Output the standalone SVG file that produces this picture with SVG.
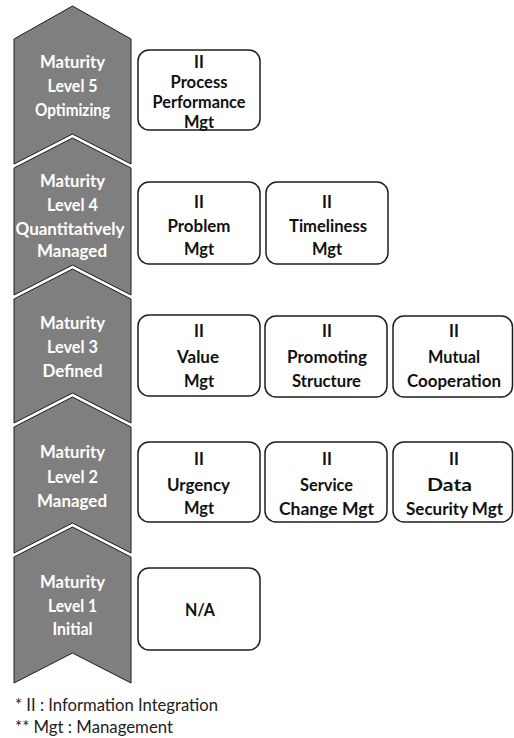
<svg xmlns="http://www.w3.org/2000/svg" width="514" height="738" viewBox="0 0 514 738">
<style>
.chev{fill:#7f7f7f;stroke:#1e1e1e;stroke-width:1}
.box{fill:#ffffff;stroke:#1e1e1e;stroke-width:1.5}
.lt{font-family:Lato,"Liberation Sans",sans-serif;font-weight:bold;font-size:16.5px;fill:#ffffff;text-anchor:middle}
.bt{font-family:Lato,"Liberation Sans",sans-serif;font-weight:bold;font-size:16.5px;fill:#111111;text-anchor:middle}
.fn{font-family:Lato,"Liberation Sans",sans-serif;font-size:17px;fill:#222222}
</style>
<rect width="514" height="738" fill="#ffffff"/>
<g id="level5">
<polygon class="chev" points="72.5,6 131,39 131,164 72.5,134 14,164 14,39"/>
<text class="lt" x="72.5" y="68" textLength="65" lengthAdjust="spacingAndGlyphs">Maturity</text>
<text class="lt" x="72.5" y="92" textLength="50" lengthAdjust="spacingAndGlyphs">Level 5</text>
<text class="lt" x="72.5" y="116" textLength="75" lengthAdjust="spacingAndGlyphs">Optimizing</text>
</g>
<g id="level4">
<polygon class="chev" points="72.5,138 131,168 131,295 72.5,265 14,295 14,168"/>
<text class="lt" x="72.5" y="187" textLength="65" lengthAdjust="spacingAndGlyphs">Maturity</text>
<text class="lt" x="72.5" y="211" textLength="51" lengthAdjust="spacingAndGlyphs">Level 4</text>
<text class="lt" x="70" y="235" textLength="109" lengthAdjust="spacingAndGlyphs">Quantitatively</text>
<text class="lt" x="72" y="257" textLength="70" lengthAdjust="spacingAndGlyphs">Managed</text>
</g>
<g id="level3">
<polygon class="chev" points="72.5,269 131,299 131,423 72.5,393 14,423 14,299"/>
<text class="lt" x="72.5" y="329" textLength="65" lengthAdjust="spacingAndGlyphs">Maturity</text>
<text class="lt" x="72.5" y="353" textLength="51" lengthAdjust="spacingAndGlyphs">Level 3</text>
<text class="lt" x="72.5" y="377" textLength="60" lengthAdjust="spacingAndGlyphs">Defined</text>
</g>
<g id="level2">
<polygon class="chev" points="72.5,397 131,427 131,553 72.5,523 14,553 14,427"/>
<text class="lt" x="72.5" y="458" textLength="65" lengthAdjust="spacingAndGlyphs">Maturity</text>
<text class="lt" x="72.5" y="483" textLength="51" lengthAdjust="spacingAndGlyphs">Level 2</text>
<text class="lt" x="72" y="507" textLength="70" lengthAdjust="spacingAndGlyphs">Managed</text>
</g>
<g id="level1">
<polygon class="chev" points="72.5,527 131,557 131,683 72.5,653 14,683 14,557"/>
<text class="lt" x="72.5" y="588" textLength="65" lengthAdjust="spacingAndGlyphs">Maturity</text>
<text class="lt" x="72.5" y="612" textLength="49" lengthAdjust="spacingAndGlyphs">Level 1</text>
<text class="lt" x="72.5" y="635" textLength="40" lengthAdjust="spacingAndGlyphs">Initial</text>
</g>
<g id="box-process-performance">
<rect class="box" x="138" y="50" width="122" height="80" rx="11"/>
<text class="bt" x="199" y="68">II</text>
<text class="bt" x="199" y="88" textLength="57" lengthAdjust="spacingAndGlyphs">Process</text>
<text class="bt" x="199" y="108" textLength="93" lengthAdjust="spacingAndGlyphs">Performance</text>
<text class="bt" x="199" y="128" textLength="30" lengthAdjust="spacingAndGlyphs">Mgt</text>
</g>
<g id="box-problem">
<rect class="box" x="138" y="182" width="122" height="82" rx="11"/>
<text class="bt" x="199" y="208">II</text>
<text class="bt" x="199" y="232" textLength="63" lengthAdjust="spacingAndGlyphs">Problem</text>
<text class="bt" x="199" y="255" textLength="30" lengthAdjust="spacingAndGlyphs">Mgt</text>
</g>
<g id="box-timeliness">
<rect class="box" x="266" y="182" width="122" height="82" rx="11"/>
<text class="bt" x="327" y="208">II</text>
<text class="bt" x="328" y="232" textLength="78" lengthAdjust="spacingAndGlyphs">Timeliness</text>
<text class="bt" x="327" y="255" textLength="30" lengthAdjust="spacingAndGlyphs">Mgt</text>
</g>
<g id="box-value">
<rect class="box" x="138" y="315" width="122" height="81" rx="11"/>
<text class="bt" x="199" y="337">II</text>
<text class="bt" x="198" y="363" textLength="42" lengthAdjust="spacingAndGlyphs">Value</text>
<text class="bt" x="199" y="387" textLength="30" lengthAdjust="spacingAndGlyphs">Mgt</text>
</g>
<g id="box-promoting-structure">
<rect class="box" x="265" y="316" width="122" height="81" rx="11"/>
<text class="bt" x="327" y="337">II</text>
<text class="bt" x="327" y="363" textLength="80" lengthAdjust="spacingAndGlyphs">Promoting</text>
<text class="bt" x="326.5" y="387" textLength="69" lengthAdjust="spacingAndGlyphs">Structure</text>
</g>
<g id="box-mutual-cooperation">
<rect class="box" x="393" y="316" width="119.5" height="81" rx="11"/>
<text class="bt" x="454" y="337">II</text>
<text class="bt" x="454" y="363" textLength="52" lengthAdjust="spacingAndGlyphs">Mutual</text>
<text class="bt" x="454" y="387" textLength="94" lengthAdjust="spacingAndGlyphs">Cooperation</text>
</g>
<g id="box-urgency">
<rect class="box" x="138" y="442" width="122" height="80" rx="11"/>
<text class="bt" x="199" y="465">II</text>
<text class="bt" x="198.5" y="491" textLength="63" lengthAdjust="spacingAndGlyphs">Urgency</text>
<text class="bt" x="199" y="514" textLength="30" lengthAdjust="spacingAndGlyphs">Mgt</text>
</g>
<g id="box-service-change">
<rect class="box" x="265" y="442" width="122" height="80" rx="11"/>
<text class="bt" x="327" y="465">II</text>
<text class="bt" x="326.5" y="491" textLength="53" lengthAdjust="spacingAndGlyphs">Service</text>
<text class="bt" x="326.5" y="515" textLength="95" lengthAdjust="spacingAndGlyphs">Change Mgt</text>
</g>
<g id="box-data-security">
<rect class="box" x="393" y="442" width="119.5" height="80" rx="11"/>
<text class="bt" x="454" y="465">II</text>
<text class="bt" x="449.5" y="491" textLength="45" lengthAdjust="spacingAndGlyphs">Data</text>
<text class="bt" x="454.5" y="515" textLength="97" lengthAdjust="spacingAndGlyphs">Security Mgt</text>
</g>
<g id="box-na">
<rect class="box" x="138" y="568" width="122" height="82" rx="11"/>
<text class="bt" x="200" y="616" textLength="30" lengthAdjust="spacingAndGlyphs">N/A</text>
</g>
<g id="connectors"></g>
<g id="footnotes">
<text class="fn" x="15" y="711" textLength="203" lengthAdjust="spacingAndGlyphs">* II : Information Integration</text>
<text class="fn" x="15" y="733" textLength="158" lengthAdjust="spacingAndGlyphs">** Mgt : Management</text>
</g>
</svg>
